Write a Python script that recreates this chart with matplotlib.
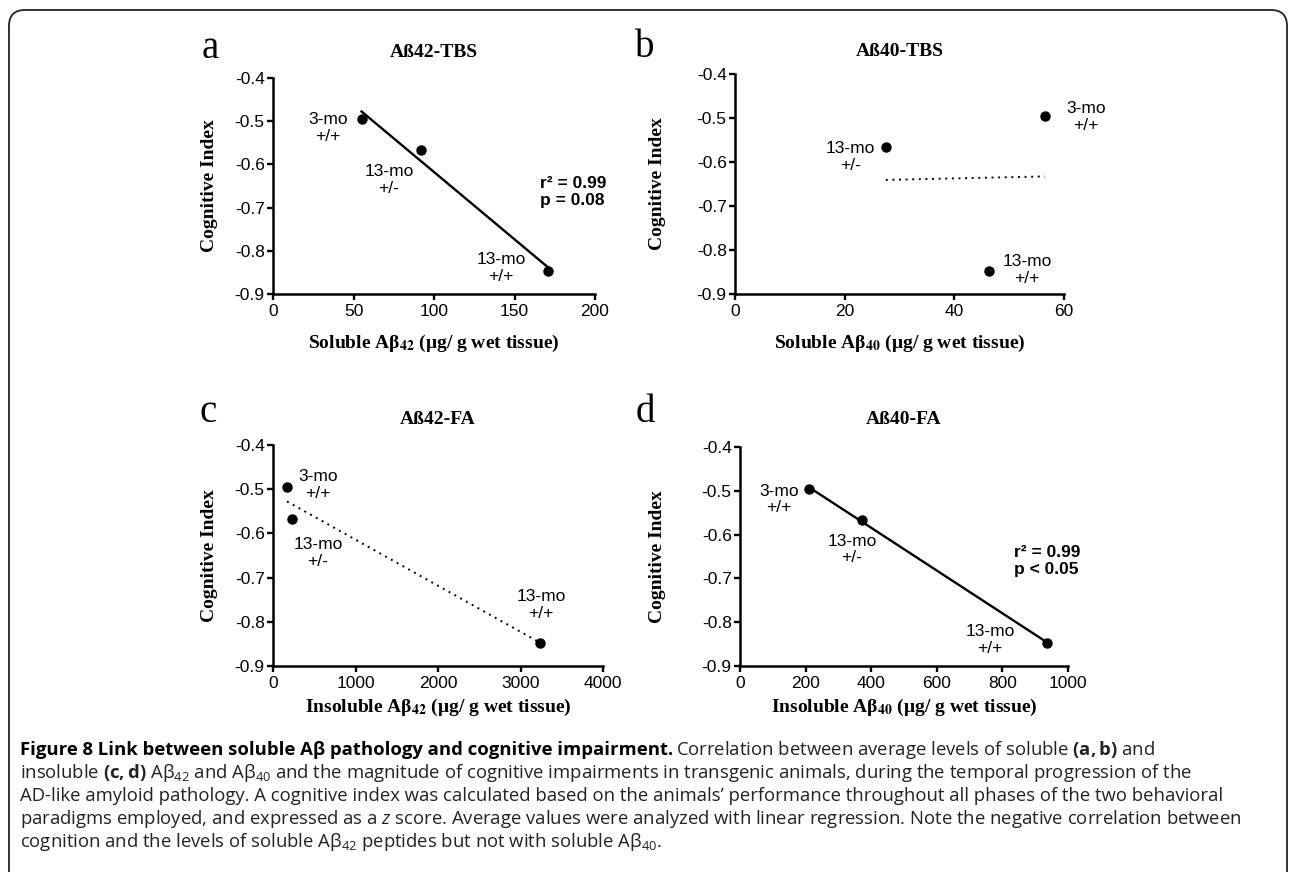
import numpy as np
import matplotlib
matplotlib.use('Agg')
import matplotlib.pyplot as plt
from matplotlib.patches import FancyBboxPatch
from matplotlib.transforms import IdentityTransform

plt.rcParams['font.family'] = ['Liberation Sans', 'DejaVu Sans']
plt.rcParams['axes.unicode_minus'] = False
plt.rcParams['mathtext.fontset'] = 'custom'
plt.rcParams['mathtext.rm'] = 'Open Sans'
plt.rcParams['mathtext.bf'] = 'Open Sans:bold'
plt.rcParams['mathtext.it'] = 'Open Sans:italic'

# data
groups = ['3-mo\n+/+', '13-mo\n+/-', '13-mo\n+/+']
cog_index = [-0.495, -0.567, -0.847]
sol_ab42 = [55, 92, 171]
sol_ab40 = [56.5, 27.5, 46.4]
insol_ab42 = [170, 228, 3240]
insol_ab40 = [210, 373, 936]

yticks = [-0.9, -0.8, -0.7, -0.6, -0.5, -0.4]
ytick_labels = ['-0.9', '-0.8', '-0.7', '-0.6', '-0.5', '-0.4']
xticks_a = [0, 50, 100, 150, 200]
xticks_b = [0, 20, 40, 60]
xticks_c = [0, 1000, 2000, 3000, 4000]
xticks_d = [0, 200, 400, 600, 800, 1000]

titles = ['Aß42-TBS', 'Aß40-TBS', 'Aß42-FA', 'Aß40-FA']
xlabels = [r'Soluble Aβ$_{\mathbf{42}}$ (μg/ g wet tissue)',
           r'Soluble Aβ$_{\mathbf{40}}$ (μg/ g wet tissue)',
           r'Insoluble Aβ$_{\mathbf{42}}$ (μg/ g wet tissue)',
           r'Insoluble Aβ$_{\mathbf{40}}$ (μg/ g wet tissue)']
stats = ['r² = 0.99\np = 0.08', None, None, 'r² = 0.99\np < 0.05']

W, H = 1290, 872
fig = plt.figure(figsize=(W / 100, H / 100), dpi=100)

panels = [
    dict(letter='a', x=sol_ab42, xticks=xticks_a, box=(273, 78, 595, 294), ls='-',
         lab=[(34, -0.516), (72, -0.636), (141.6, -0.84)], st=(166, -0.664),
         let=(210, 58), tb=57, yl=-0.171, xl=-0.18),
    dict(letter='b', x=sol_ab40, xticks=xticks_b, box=(735, 74, 1064, 294), ls=':',
         lab=[(64.0, -0.498), (21.1, -0.589), (53.3, -0.845)], st=None,
         let=(645, 57), tb=56, yl=-0.21, xl=-0.177),
    dict(letter='c', x=insol_ab42, xticks=xticks_c, box=(273, 445, 603, 666), ls=':',
         lab=[(545, -0.49), (545, -0.644), (3248, -0.762)], st=None,
         let=(208, 422), tb=424, yl=-0.167, xl=-0.14),
    dict(letter='d', x=insol_ab40, xticks=xticks_d, box=(740, 447, 1068, 666), ls='-',
         lab=[(119, -0.52), (341, -0.634), (762, -0.84)], st=(835, -0.66),
         let=(645, 422), tb=424, yl=-0.226, xl=-0.14),
]

for i, p in enumerate(panels):
    l, t, r, b = p['box']
    ax = fig.add_axes([l / W, 1 - b / H, (r - l) / W, (b - t) / H])
    x = np.array(p['x'], dtype=float)
    y = np.array(cog_index)

    coef = np.polyfit(x, y, 1)
    xs = np.array([x.min(), x.max()])
    if p['ls'] == '-':
        ax.plot(xs, np.polyval(coef, xs), '-', color='black', lw=1.7)
    else:
        ax.plot(xs, np.polyval(coef, xs), color='black', lw=1.4, ls=(0, (1, 2.4)))
    ax.plot(x, y, 'o', color='black', ms=6.5, clip_on=False, zorder=3)

    for g, (lx, ly) in zip(groups, p['lab']):
        ax.text(lx, ly, g, ha='center', va='center', fontsize=12.5, linespacing=1.15)
    if stats[i]:
        ax.text(p['st'][0], p['st'][1], stats[i], ha='left', va='center',
                fontsize=12.5, fontweight='bold', linespacing=1.2)

    ax.set_xlim(p['xticks'][0], p['xticks'][-1])
    ax.set_ylim(-0.9, -0.4)
    ax.set_xticks(p['xticks'])
    ax.set_xticklabels([str(v) for v in p['xticks']])
    ax.set_yticks(yticks)
    ax.set_yticklabels(ytick_labels)
    for s in ['top', 'right']:
        ax.spines[s].set_visible(False)
    for s in ['left', 'bottom']:
        ax.spines[s].set_linewidth(1.8)
    ax.tick_params(direction='out', length=4.5, width=1.7, labelsize=12.5)
    ax.tick_params(axis='y', pad=1.5)
    ax.tick_params(axis='x', pad=3)

    ax.set_ylabel('Cognitive Index', family='Liberation Serif', fontweight='bold', fontsize=14)
    ax.yaxis.set_label_coords(p['yl'], 0.5)
    ax.set_xlabel(xlabels[i], family='Liberation Serif', fontweight='bold', fontsize=14,
                  math_fontfamily='stix')
    ax.xaxis.set_label_coords(0.5, p['xl'])

    fig.text((l + r) / 2 / W, 1 - p['tb'] / H, titles[i], ha='center', va='baseline',
             family='Liberation Serif', fontweight='bold', fontsize=14)
    fig.text(p['let'][0] / W, 1 - p['let'][1] / H, p['letter'], ha='center', va='baseline',
             family='Liberation Serif', fontsize=28)

# caption
cap_head = 'Figure 8 Link between soluble A\u03b2 pathology and cognitive impairment.'
caption = [
    r'Correlation between average levels of soluble $\mathbf{(a,b)}$ and',
    r'insoluble $\mathbf{(c,d)}$ Aβ$_{42}$ and Aβ$_{40}$ and the magnitude of cognitive impairments'
    r' in transgenic animals, during the temporal progression of the',
    'AD-like amyloid pathology. A cognitive index was calculated based on the animals\u2019'
    ' performance throughout all phases of the two behavioral',
    r'paradigms employed, and expressed as a $\mathit{z}$ score. Average values were analyzed'
    r' with linear regression. Note the negative correlation between',
    r'cognition and the levels of soluble Aβ$_{42}$ peptides but not with soluble Aβ$_{40}$.',
]
fig.text(20 / W, 1 - 755 / H, cap_head, ha='left', va='baseline', family='Open Sans',
         fontweight='bold', fontsize=13.3, color='black')
for k, line in enumerate(caption):
    x0 = 676 if k == 0 else 20
    fig.text(x0 / W, 1 - (755 + 23 * k) / H, line, ha='left', va='baseline',
             family='Open Sans', fontsize=13.3, color='#222222', math_fontfamily='custom')

# rounded frame
frame = FancyBboxPatch((9, -40), 1278, 902, boxstyle='round,pad=0,rounding_size=16',
                       transform=IdentityTransform(), fill=False, lw=1.3, ec='#222222')
fig.add_artist(frame)

fig.savefig('out.png', dpi=100)
